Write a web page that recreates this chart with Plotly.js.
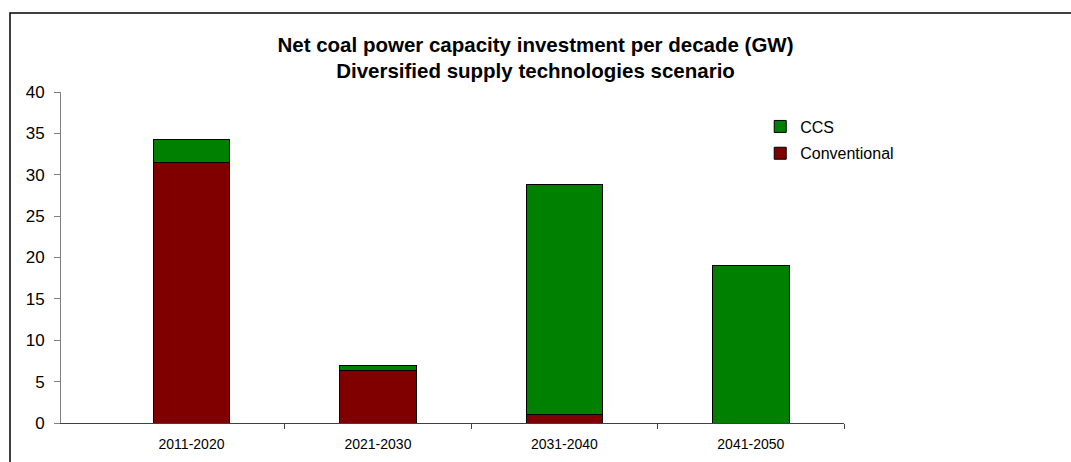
<!DOCTYPE html>
<html>
<head>
<meta charset="utf-8">
<script src="https://cdn.plot.ly/plotly-3.0.1.min.js"></script>
<style>html,body{margin:0;padding:0;background:#fff;}#chart{width:1071px;height:462px;}</style>
</head>
<body>
<div id="chart"></div>
<script>
var decades = ["2011-2020", "2021-2030", "2031-2040", "2041-2050"];
var conventional = [31.5, 6.3, 1.0, 0];
var ccs = [2.7, 0.7, 27.8, 19.0];
var yTicks = [0, 5, 10, 15, 20, 25, 30, 35, 40];

var font = "Liberation Sans, Arial, sans-serif";
var pos = decades.map(function (d, i) { return i; });
var bounds = decades.map(function (d, i) { return i + 0.5; });

var traces = [
  {type: "bar", name: "Conventional", x: pos, y: conventional, legendgroup: "a", legendrank: 2,
   marker: {color: "#800000", line: {color: "#000000", width: 1}}},
  {type: "bar", name: "CCS", x: pos, y: ccs, legendgroup: "b", legendrank: 1,
   marker: {color: "#008000", line: {color: "#000000", width: 1}}}
];

var layout = {
  width: 1071, height: 462,
  paper_bgcolor: "#ffffff", plot_bgcolor: "#ffffff",
  barmode: "stack", bargap: 0.59,
  margin: {l: 61, r: 227, t: 92, b: 39},
  font: {family: font, color: "#000000"},
  title: {
    text: "<b>Net coal power capacity investment per decade (GW)<br>Diversified supply technologies scenario</b>",
    font: {family: font, size: 20.5, color: "#000000"},
    x: 0.5, xref: "container", xanchor: "center",
    y: 0.888, yref: "container", yanchor: "top"
  },
  xaxis: {
    type: "linear", range: [-0.7, 3.5],
    tickmode: "array", tickvals: pos, ticktext: decades, ticks: "",
    ticklabelstandoff: 8,
    minor: {tickmode: "array", tickvals: bounds, ticks: "outside", ticklen: 5, tickcolor: "#404040", showgrid: false},
    showline: true, linecolor: "#404040", linewidth: 1,
    tickfont: {family: font, size: 14, color: "#000000"},
    showgrid: false, zeroline: false, fixedrange: true
  },
  yaxis: {
    range: [0, 40], tickmode: "array", tickvals: yTicks,
    showline: true, linecolor: "#808080", linewidth: 1,
    ticks: "outside", ticklen: 6, tickcolor: "#808080",
    ticklabelstandoff: 6,
    tickfont: {family: font, size: 17, color: "#000000"},
    showgrid: false, zeroline: false
  },
  showlegend: true,
  legend: {
    x: 0.893, y: 0.947, xanchor: "left", yanchor: "top",
    traceorder: "grouped", tracegroupgap: 3,
    font: {family: font, size: 16, color: "#000000"},
    bgcolor: "rgba(0,0,0,0)"
  },
  shapes: [
    {type: "rect", xref: "paper", yref: "paper",
     x0: -51/783, x1: 1100/783, y0: -60/331, y1: 410/331,
     line: {color: "#000000", width: 1.5}, fillcolor: "rgba(0,0,0,0)", layer: "below"}
  ]
};

Plotly.newPlot("chart", traces, layout, {displayModeBar: false, staticPlot: true});
</script>
</body>
</html>
